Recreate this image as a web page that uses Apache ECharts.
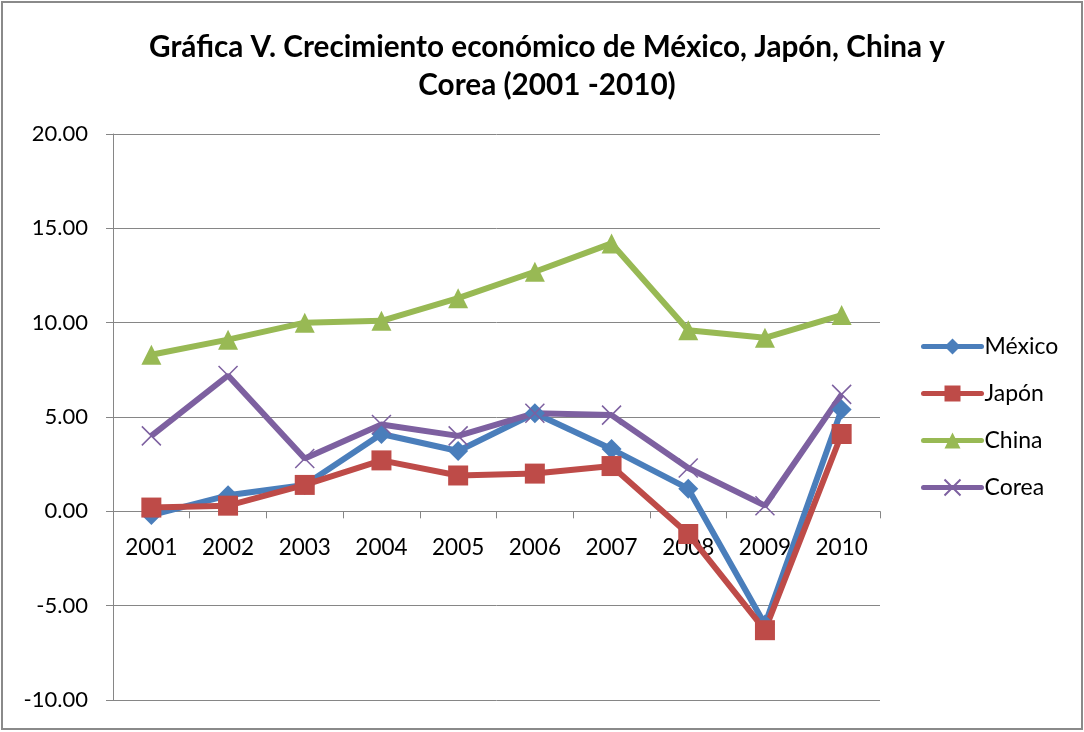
<!DOCTYPE html>
<html><head><meta charset="utf-8">
<script src="https://cdn.jsdelivr.net/npm/echarts@6/dist/echarts.min.js"></script>
<style>html,body{margin:0;padding:0;background:#fff}#c{width:1084px;height:732px}</style>
</head><body><div id="c"></div>
<script>
const categories = ['2001','2002','2003','2004','2005','2006','2007','2008','2009','2010'];
const mexico = [-0.2, 0.85, 1.4, 4.1, 3.2, 5.2, 3.3, 1.2, -6.0, 5.4];
const japon  = [0.2, 0.3, 1.4, 2.7, 1.9, 2.0, 2.4, -1.2, -6.3, 4.1];
const china  = [8.3, 9.1, 10.0, 10.1, 11.3, 12.7, 14.2, 9.6, 9.2, 10.4];
const corea  = [4.0, 7.2, 2.8, 4.6, 4.0, 5.2, 5.1, 2.3, 0.3, 6.2];
const yTicks = { min: -10, max: 20, interval: 5 };

const FONT = 'Lato, "Open Sans", sans-serif';
const GRID = { left: 113, right: 204, top: 134, bottom: 32 };
const plotH = 732 - GRID.top - GRID.bottom;
const zeroOffset = plotH * (0 - yTicks.min) / (yTicks.max - yTicks.min);

const chart = echarts.init(document.getElementById('c'));
function mk(name, data, color, symbol, size, extra) {
  return Object.assign({
    name, type: 'line', data, symbol, symbolSize: size,
    lineStyle: { color, width: 6 },
    itemStyle: { color },
    emphasis: { disabled: true },
    animation: false
  }, extra || {});
}
chart.setOption({
  backgroundColor: '#fff',
  animation: false,
  title: {
    text: 'Gráfica V. Crecimiento económico de México, Japón, China y\nCorea (2001 -2010)',
    left: 542, top: 23, textAlign: 'center',
    textStyle: { fontFamily: FONT, fontWeight: 'bold', fontSize: 29.7, lineHeight: 38, color: '#000' }
  },
  graphic: [{ type: 'rect', shape: { x: 2, y: 2, width: 1080, height: 727 },
    style: { fill: 'none', stroke: '#8a8a8a', lineWidth: 2 }, silent: true }],
  legend: {
    orient: 'vertical', left: 916, top: 330, itemGap: 24, itemWidth: 58, itemHeight: 20,
    lineStyle: { width: 5, cap: 'round' },
    textStyle: { fontFamily: FONT, fontSize: 23, color: '#000', padding: [0,0,0,-2] },
    data: ['México', 'Japón', 'China', 'Corea']
  },
  grid: Object.assign({ outerBoundsMode: 'none', containLabel: false }, GRID),
  xAxis: {
    type: 'category', data: categories, position: 'bottom', offset: -zeroOffset,
    axisLine: { onZero: false, lineStyle: { color: '#868686', width: 1 } },
    axisTick: { show: true, length: 7, lineStyle: { color: '#868686' } },
    axisLabel: { fontFamily: FONT, fontSize: 22.5, color: '#000', margin: 25 }
  },
  yAxis: {
    type: 'value', min: yTicks.min, max: yTicks.max, interval: yTicks.interval,
    axisLine: { show: true, lineStyle: { color: '#868686' } },
    axisTick: { show: true, length: 7, lineStyle: { color: '#868686' } },
    splitLine: { lineStyle: { color: '#868686', width: 1 } },
    axisLabel: { fontFamily: FONT, fontSize: 22, color: '#000', margin: 25,
      formatter: v => v.toFixed(2) }
  },
  series: [
    mk('México', mexico, '#4A7EBB', 'diamond', 20),
    mk('Japón', japon, '#BE4B48', 'rect', 20),
    mk('China', china, '#98B954', 'triangle', 20),
    mk('Corea', corea, '#7D60A0', 'path://M0 0L10 10M10 0L0 10', 19,
      { itemStyle: { color: 'rgba(0,0,0,0)', borderColor: '#7D60A0', borderWidth: 1.5 } })
  ]
});
</script></body></html>
